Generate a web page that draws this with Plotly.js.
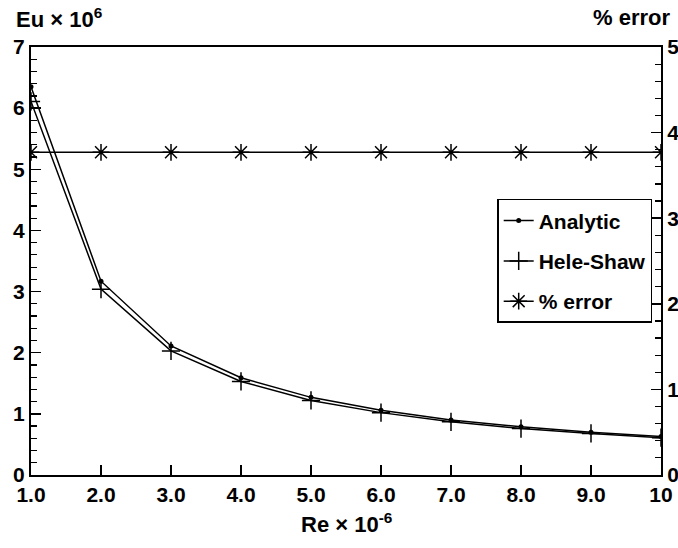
<!DOCTYPE html>
<html>
<head>
<meta charset="utf-8">
<script src="https://cdn.plot.ly/plotly-3.0.1.min.js"></script>
<style>html,body{margin:0;padding:0;background:#fff;}#chart{width:678px;height:548px;}</style>
</head>
<body>
<div id="chart"></div>
<script>
const re = [1, 2, 3, 4, 5, 6, 7, 8, 9, 10];
const xTickLabels = ["1.0", "2.0", "3.0", "4.0", "5.0", "6.0", "7.0", "8.0", "9.0", "10"];
const analytic = [6.35, 3.17, 2.11, 1.59, 1.27, 1.06, 0.90, 0.79, 0.70, 0.63];
const heleShaw = [6.11, 3.04, 2.03, 1.53, 1.22, 1.02, 0.87, 0.76, 0.68, 0.61];
const pctError = [3.77, 3.77, 3.77, 3.77, 3.77, 3.77, 3.77, 3.77, 3.77, 3.77];

const FONT = "Liberation Sans, Arial, sans-serif";
const black = "#000";

const traces = [
  {x: re, y: analytic, name: "Analytic", mode: "lines+markers", legendgroup: "a",
   line: {color: black, width: 1.5}, marker: {symbol: "circle", size: 5, color: black}},
  {x: re, y: heleShaw, name: "Hele-Shaw", mode: "lines+markers", legendgroup: "b",
   line: {color: black, width: 1.5}, marker: {symbol: "cross-thin", size: 13, line: {color: black, width: 1.5}}},
  {x: re, y: pctError, name: "% error", mode: "lines+markers", yaxis: "y2", legendgroup: "c",
   line: {color: black, width: 1.5}, marker: {symbol: "asterisk-open", size: 14, line: {color: black, width: 1.5}}}
];

const layout = {
  width: 678, height: 548,
  margin: {l: 31, r: 17, t: 47, b: 73},
  paper_bgcolor: "#fff", plot_bgcolor: "#fff",
  font: {family: FONT, size: 21, color: black, weight: "bold"},
  showlegend: true,
  legend: {x: 0.74, y: 0.645, xanchor: "left", yanchor: "top",
           bgcolor: "#fff", bordercolor: black, borderwidth: 1.5,
           font: {family: FONT, size: 21, color: black, weight: "bold"},
           traceorder: "grouped", tracegroupgap: 10, itemwidth: 30},
  xaxis: {range: [1, 10], tickvals: re, ticktext: xTickLabels,
          showgrid: false, zeroline: false, showline: true, linecolor: black, linewidth: 2,
          mirror: true, ticks: "inside", ticklen: 10, tickwidth: 1.5, tickcolor: black,
          tickfont: {family: FONT, size: 21, color: black, weight: "bold"}},
  yaxis: {range: [0, 7], dtick: 1, showgrid: false, zeroline: false, showline: true,
          linecolor: black, linewidth: 2, ticks: "inside", ticklen: 10, tickwidth: 1.5, tickcolor: black,
          minor: {dtick: 0.2, ticks: "inside", ticklen: 6, tickwidth: 1.2, tickcolor: black, showgrid: false},
          tickfont: {family: FONT, size: 21, color: black, weight: "bold"}},
  yaxis2: {range: [0, 5], dtick: 1, overlaying: "y", side: "right", showgrid: false, zeroline: false,
           showline: true, linecolor: black, linewidth: 2, ticks: "inside", ticklen: 10, tickwidth: 1.5, tickcolor: black,
           minor: {dtick: 0.2, ticks: "inside", ticklen: 6, tickwidth: 1.2, tickcolor: black, showgrid: false},
           tickfont: {family: FONT, size: 21, color: black, weight: "bold"}},
  annotations: [
    {text: "Eu × 10<sup>6</sup>", xref: "paper", yref: "paper", x: -0.027, y: 1.068,
     xanchor: "left", yanchor: "middle", showarrow: false,
     font: {family: FONT, size: 22, color: black, weight: "bold"}},
    {text: "% error", xref: "paper", yref: "paper", x: 1.017, y: 1.068,
     xanchor: "right", yanchor: "middle", showarrow: false,
     font: {family: FONT, size: 22, color: black, weight: "bold"}},
    {text: "Re × 10<sup>-6</sup>", xref: "paper", yref: "paper", x: 0.5, y: -0.112,
     xanchor: "center", yanchor: "middle", showarrow: false,
     font: {family: FONT, size: 22, color: black, weight: "bold"}}
  ]
};

Plotly.newPlot("chart", traces, layout, {displayModeBar: false, staticPlot: true});
</script>
</body>
</html>
